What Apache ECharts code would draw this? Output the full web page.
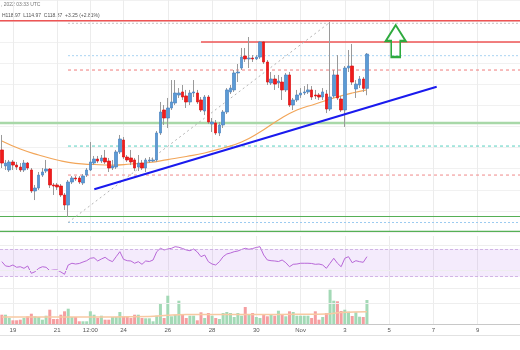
<!DOCTYPE html>
<html>
<head>
<meta charset="utf-8">
<script src="https://cdn.jsdelivr.net/npm/echarts@6/dist/echarts.min.js"></script>
<style>
  html, body { margin: 0; padding: 0; background: #ffffff; }
  #chart { width: 520px; height: 350px; }
</style>
</head>
<body>
<div id="chart"></div>
<script>
// ---- 4-hour candles, 2022-10-18 12:00 UTC .. 2022-11-04 00:00 UTC ----
const openPrices = [
  109.78, 108.26, 107.88, 108.64, 108.35, 108.16, 107.88, 108.54, 107.88, 105.89,
  106.17, 107.40, 107.78, 107.97, 106.46, 106.46, 106.36, 105.51, 104.56, 106.74,
  107.12, 107.12, 106.65, 107.40, 107.88, 108.54, 108.92, 108.73, 109.02, 108.73,
  108.07, 108.16, 109.59, 110.72, 109.11, 109.02, 108.83, 108.16, 108.54, 108.07,
  108.73, 108.73, 108.83, 111.39, 113.57, 112.81, 113.76, 114.23, 114.99, 115.28,
  114.90, 114.33, 115.18, 115.18, 114.52, 113.47, 114.80, 112.24, 112.34, 111.39,
  112.15, 113.38, 115.28, 115.47, 117.08, 117.55, 118.69, 118.41, 118.50, 118.41,
  118.59, 120.02, 118.12, 116.13, 116.51, 116.13, 116.22, 115.47, 116.89, 114.04,
  114.52, 114.99, 115.18, 115.28, 115.47, 114.99, 114.99, 114.80, 115.09, 113.66,
  114.90, 116.89, 114.61, 113.57, 117.55, 117.74, 115.56, 115.94, 116.51, 115.62
];
const closePrices = [
  108.54, 108.54, 108.64, 108.35, 108.16, 107.88, 108.54, 108.07, 105.89, 106.17,
  107.40, 107.69, 107.97, 106.46, 106.36, 106.27, 105.51, 104.56, 106.74, 107.12,
  107.03, 106.74, 107.31, 107.88, 108.64, 108.92, 108.73, 109.02, 108.64, 108.07,
  108.26, 109.59, 110.82, 109.11, 108.83, 108.64, 108.07, 108.54, 108.07, 108.83,
  108.83, 108.83, 111.39, 113.38, 112.81, 113.76, 114.33, 115.18, 115.18, 114.80,
  114.33, 115.18, 115.28, 114.33, 113.57, 114.80, 112.43, 112.43, 111.39, 112.15,
  113.38, 115.47, 115.65, 117.08, 117.17, 118.59, 118.41, 118.50, 118.41, 118.59,
  120.02, 118.12, 116.22, 116.51, 116.03, 116.32, 115.47, 116.89, 114.04, 114.52,
  114.99, 115.18, 115.28, 115.47, 114.80, 114.90, 114.80, 115.28, 113.66, 114.80,
  116.89, 114.71, 113.57, 117.55, 117.74, 116.22, 116.03, 116.51, 115.62, 118.87
];
const lowPrices = [
  108.07, 107.88, 107.69, 107.88, 107.88, 107.69, 107.69, 107.88, 105.70, 105.03,
  105.98, 107.22, 107.59, 106.17, 105.51, 105.98, 105.32, 104.09, 103.42, 106.55,
  106.84, 106.55, 106.46, 107.22, 107.78, 108.35, 108.54, 108.54, 108.45, 107.69,
  107.88, 107.97, 109.40, 108.92, 108.64, 108.35, 107.78, 107.78, 107.88, 107.69,
  108.54, 108.64, 108.64, 111.20, 112.15, 111.86, 113.57, 114.04, 114.71, 114.52,
  113.76, 114.04, 114.80, 114.14, 113.38, 113.09, 112.24, 111.48, 111.20, 111.10,
  111.86, 113.19, 115.09, 115.28, 116.22, 117.36, 118.12, 117.55, 118.12, 118.31,
  118.41, 117.93, 115.94, 115.94, 115.47, 115.65, 114.52, 115.28, 113.85, 113.57,
  114.33, 114.71, 114.99, 115.09, 114.52, 114.61, 114.52, 114.52, 113.28, 113.47,
  114.71, 114.52, 113.38, 111.96, 117.17, 115.94, 114.71, 115.65, 115.28, 114.97
];
const highPrices = [
  111.20, 108.83, 108.83, 108.83, 108.64, 108.54, 108.83, 108.64, 108.07, 106.46,
  107.69, 108.07, 108.83, 108.07, 106.65, 106.65, 106.55, 105.70, 106.93, 107.31,
  107.31, 107.31, 107.50, 108.07, 110.53, 109.21, 109.21, 109.30, 109.78, 109.02,
  108.83, 109.78, 111.20, 111.01, 109.30, 109.78, 109.02, 109.30, 108.83, 109.02,
  109.11, 109.02, 111.58, 114.33, 114.04, 114.71, 116.41, 116.41, 115.65, 115.94,
  115.47, 115.47, 116.41, 115.47, 114.80, 114.99, 114.99, 112.81, 112.62, 112.43,
  113.57, 115.65, 115.94, 117.36, 117.93, 119.45, 119.45, 120.49, 118.78, 118.78,
  120.11, 120.11, 118.31, 117.17, 116.89, 116.89, 116.70, 117.08, 117.17, 114.71,
  115.47, 115.65, 115.84, 116.03, 115.84, 115.47, 115.18, 115.65, 115.47, 121.91,
  117.36, 118.78, 114.90, 117.74, 119.26, 119.83, 116.41, 116.79, 116.70, 118.97
];
// volume per candle (thousands)
const volumes = [
  9.3, 9.3, 6.0, 3.7, 3.7, 4.3, 6.0, 7.7, 10.3, 7.7,
  7.0, 4.3, 8.3, 14.3, 5.0, 5.0, 9.3, 12.7, 15.3, 7.0,
  7.0, 2.7, 2.7, 2.7, 12.7, 9.3, 6.0, 8.3, 4.3, 4.3,
  7.0, 7.0, 12.0, 7.7, 7.7, 6.0, 9.3, 9.3, 6.0, 5.7,
  5.7, 2.7, 8.3, 21.0, 6.0, 28.3, 7.7, 9.3, 23.3, 9.3,
  6.0, 8.3, 8.3, 3.7, 11.7, 6.0, 11.0, 8.3, 6.0, 5.0,
  11.0, 12.0, 11.0, 7.0, 11.0, 8.3, 17.0, 10.0, 11.0, 7.0,
  6.0, 9.3, 7.7, 9.3, 8.3, 13.3, 9.3, 7.7, 12.7, 12.0,
  8.3, 8.3, 8.3, 8.3, 6.0, 12.7, 4.3, 7.0, 11.0, 34.3,
  23.3, 22.7, 13.0, 14.3, 12.3, 8.0, 11.7, 7.3, 7.0, 24.0
];
// RSI(14) per candle
const rsiValues = [
  51.7, 45.5, 44.7, 46.9, 43.6, 44.4, 42.1, 45.5, 34.9, 37.2,
  42.1, 44.4, 43.6, 38.7, 39.7, 39.7, 36.8, 33.5, 46.9, 49.4,
  48.3, 49.1, 51.2, 53.1, 56.6, 57.4, 52.7, 55.6, 58.0, 54.1,
  51.7, 58.9, 66.1, 55.1, 53.1, 52.7, 49.4, 51.7, 47.9, 52.7,
  51.9, 54.1, 66.1, 71.0, 68.6, 70.0, 71.0, 73.3, 72.5, 70.7,
  68.6, 67.5, 70.0, 65.7, 58.9, 61.3, 51.7, 48.3, 46.9, 51.7,
  58.9, 62.8, 64.2, 66.1, 67.1, 69.3, 71.0, 69.6, 70.7, 72.2,
  73.3, 61.3, 54.1, 53.1, 52.7, 51.9, 54.1, 50.2, 44.4, 47.9,
  48.3, 49.4, 49.4, 49.4, 49.1, 47.9, 48.3, 46.9, 42.1, 49.4,
  56.6, 49.4, 44.4, 56.6, 58.9, 50.2, 53.1, 51.7, 50.8, 58.9
];
// moving average of price, sampled [candle index, price]
const priceMaPoints = [
  [0, 110.63], [5, 109.87], [10, 109.30], [15, 108.83], [20, 108.50], [25, 108.40],
  [30, 108.35], [35, 108.45], [40, 108.59], [45, 108.87], [50, 109.16], [55, 109.49],
  [60, 109.97], [65, 110.53], [70, 111.48], [75, 112.62], [80, 113.57], [85, 114.14],
  [90, 114.71], [95, 115.18], [99, 115.47]
];
// moving average of volume, sampled [candle index, volume]
const volumeMaPoints = [
  [0, 7.0], [20, 7.0], [40, 7.5], [44, 8.5], [50, 9.5], [60, 9.5],
  [70, 9.5], [80, 9.7], [88, 10.0], [92, 11.5], [99, 12.3]
];
// time-axis ticks
const tickDates = [
  '2022-10-19 00:00', '2022-10-21 00:00', '2022-10-22 12:00', '2022-10-24 00:00',
  '2022-10-26 00:00', '2022-10-28 00:00', '2022-10-30 00:00', '2022-11-01 00:00',
  '2022-11-03 00:00', '2022-11-05 00:00', '2022-11-07 00:00', '2022-11-09 00:00'
];
const tickLabels = ['19', '21', '12:00', '24', '26', '28', '30', 'Nov', '3', '5', '7', '9'];

// ---- drawn levels (prices) ----
const resistanceTop = 122.03;
const resistanceMid = 120.02;
const supportBand = 112.34;
const supportLow = 103.47;
const supportFloor = 102.05;
// retracement levels, anchored at the 21 Oct low
const fibLevelPrices = [102.90, 107.40, 110.15, 117.36, 118.72, 121.79];
const fibAnchorLow = [17.94, 102.90];
const fibAnchorHigh = [89.05, 121.91];
const resistanceMidStart = 54.0;
// rising trend line [candle index, price]
const trendLinePoints = [[25.07, 106.05], [117.91, 115.78]];
// breakout arrow position [candle index, price]
const arrowPoint = [106.8, 120.11];

// ---- category axis (4h slots including empty space on the right) ----
const SLOT_COUNT = 141;
const START_UTC = Date.UTC(2022, 9, 18, 12, 0);
function fmtSlot(ms) {
  const d = new Date(ms);
  const p = n => String(n).padStart(2, '0');
  return d.getUTCFullYear() + '-' + p(d.getUTCMonth() + 1) + '-' + p(d.getUTCDate()) +
    ' ' + p(d.getUTCHours()) + ':' + p(d.getUTCMinutes());
}
const categories = [];
for (let i = 0; i < SLOT_COUNT; i++) categories.push(fmtSlot(START_UTC + i * 4 * 3600 * 1000));
const tickSet = new Set(tickDates);
const isTick = (idx, value) => tickSet.has(value);
const X_MAX = SLOT_COUNT - 0.5;

const UP = '#5b9bd5', DOWN = '#f01c1c';
const isUp = openPrices.map((o, i) => closePrices[i] >= o);
const candleRows = openPrices.map((o, i) => [o, closePrices[i], lowPrices[i], highPrices[i]]);
const bodyRows = openPrices.map((o, i) => {
  const c = closePrices[i];
  return [o, c, Math.min(o, c), Math.max(o, c)];
});

function levelSeries(fromX, price, style) {
  return {
    type: 'line', xAxisIndex: 3, yAxisIndex: 0, silent: true, symbol: 'none',
    data: [[fromX, price], [X_MAX, price]],
    lineStyle: style, z: 1, animation: false
  };
}

const last = openPrices.length - 1;
const chg = closePrices[last] - closePrices[last - 1];
const pct = chg / closePrices[last - 1] * 100;
const sign = chg >= 0 ? '+' : '-';
const headerText = 'H' + highPrices[last].toFixed(2) + '  L' + lowPrices[last].toFixed(2) +
  '  C' + closePrices[last].toFixed(2) + '  ' + sign + Math.abs(chg).toFixed(2) +
  ' (' + sign + Math.abs(pct).toFixed(2) + '%)';

const vGrid = { show: true, alignWithLabel: true, interval: isTick, lineStyle: { color: '#ececec', width: 1 } };
function catAxis(gridIndex, withLabels) {
  return {
    type: 'category', gridIndex, data: categories, boundaryGap: true,
    axisLine: { show: withLabels, lineStyle: { color: '#c8c8c8' } },
    axisTick: { show: false },
    axisLabel: withLabels ? {
      show: true, interval: isTick, margin: 3, fontSize: 6, color: '#555',
      fontFamily: 'Liberation Sans, Arial, sans-serif',
      formatter: v => tickLabels[tickDates.indexOf(v)]
    } : { show: false },
    splitLine: vGrid
  };
}

const chart = echarts.init(document.getElementById('chart'));
const option = {
  animation: false,
  backgroundColor: '#ffffff',
  grid: [
    { left: 0, right: 0, top: 0, height: 232 },
    { left: 0, right: 0, top: 236, height: 52 },
    { left: 0, right: 0, top: 284, height: 40 }
  ],
  xAxis: [
    catAxis(0, false),
    catAxis(1, false),
    catAxis(2, true),
    { type: 'value', gridIndex: 0, min: -0.5, max: X_MAX, show: false },
    { type: 'value', gridIndex: 2, min: -0.5, max: X_MAX, show: false }
  ],
  yAxis: [
    { type: 'value', gridIndex: 0, min: 102, max: 124, interval: 2, position: 'right',
      axisLabel: { show: false }, axisLine: { show: false }, axisTick: { show: false },
      splitLine: { show: true, lineStyle: { color: '#f1f1f1' } } },
    { type: 'value', gridIndex: 1, min: 13.68, max: 88.77, position: 'right',
      axisLabel: { show: false }, axisLine: { show: false }, axisTick: { show: false },
      splitLine: { show: false } },
    { type: 'value', gridIndex: 2, min: 0, max: 40, position: 'right',
      axisLabel: { show: false }, axisLine: { show: false }, axisTick: { show: false },
      splitLine: { show: false } }
  ],
  graphic: [
    { type: 'text', left: 1, top: 2, silent: true,
      style: { text: ', 2022 03:33 UTC', fontSize: 5, fill: '#777', fontFamily: 'Liberation Sans, Arial, sans-serif' } },
    { type: 'text', left: 2, top: 13, silent: true,
      style: { text: headerText, fontSize: 5, fill: '#555', fontFamily: 'Liberation Sans, Arial, sans-serif' } },
    { type: 'line', silent: true, shape: { x1: 0, y1: 335.5, x2: 520, y2: 335.5 },
      style: { stroke: '#e2e2e2', lineWidth: 1 } }
  ],
  series: [
    // horizontal levels
    levelSeries(-0.5, resistanceTop, { color: '#ee5555', width: 1.6 }),
    levelSeries(resistanceMidStart, resistanceMid, { color: '#ee5555', width: 1.6 }),
    levelSeries(-0.5, supportBand, { color: '#a8d8a8', width: 2.4 }),
    levelSeries(-0.5, supportLow, { color: '#55b055', width: 1.2 }),
    levelSeries(-0.5, supportFloor, { color: '#55b055', width: 1.2 }),
    levelSeries(fibAnchorLow[0], fibLevelPrices[0], { color: '#9ccbf0', width: 1, type: [2, 2] }),
    levelSeries(fibAnchorLow[0], fibLevelPrices[1], { color: '#f08a8a', width: 1, type: [3, 3] }),
    levelSeries(fibAnchorLow[0], fibLevelPrices[2], { color: '#58d0c0', width: 1, type: [3, 3] }),
    levelSeries(fibAnchorLow[0], fibLevelPrices[3], { color: '#f07c7c', width: 1, type: [3, 3] }),
    levelSeries(fibAnchorLow[0], fibLevelPrices[4], { color: '#a9d4f2', width: 1, type: [2, 2] }),
    levelSeries(fibAnchorLow[0], fibLevelPrices[5], { color: '#c4c4c4', width: 1, type: [2, 2] }),
    // retracement diagonal
    { type: 'line', xAxisIndex: 3, yAxisIndex: 0, silent: true, symbol: 'none', z: 1,
      data: [fibAnchorLow, fibAnchorHigh],
      lineStyle: { color: '#b5b5b5', width: 1, type: [2, 3] } },
    // moving average
    { type: 'line', xAxisIndex: 3, yAxisIndex: 0, silent: true, symbol: 'none', smooth: true, z: 2,
      data: priceMaPoints, lineStyle: { color: '#f2a65a', width: 1.2 } },
    // candle wicks
    { type: 'candlestick', xAxisIndex: 0, yAxisIndex: 0, silent: true, barWidth: 0.4, z: 3,
      data: candleRows,
      itemStyle: { color: '#9a9a9a', color0: '#9a9a9a', borderColor: '#9a9a9a', borderColor0: '#9a9a9a', borderWidth: 1 } },
    // candle bodies
    { type: 'candlestick', xAxisIndex: 0, yAxisIndex: 0, silent: true, barWidth: 3, z: 4,
      data: bodyRows,
      itemStyle: { color: UP, color0: DOWN, borderColor: '#4a82c0', borderColor0: '#dd1010', borderWidth: 0.7 } },
    // rising trend line + breakout arrow
    { type: 'line', xAxisIndex: 3, yAxisIndex: 0, silent: true, symbol: 'none', z: 5,
      data: trendLinePoints, lineStyle: { color: '#1a1aee', width: 2 },
      markPoint: {
        silent: true, label: { show: false },
        symbol: 'path://M10 0 L20 16 L14.5 16 L14.5 32 L5.5 32 L5.5 16 L0 16 Z',
        symbolSize: [20, 32], symbolKeepAspect: false,
        itemStyle: { color: 'rgba(255,255,255,0)', borderColor: '#2eaa3e', borderWidth: 2 },
        data: [{ coord: arrowPoint }]
      } },
    // RSI
    { type: 'line', xAxisIndex: 1, yAxisIndex: 1, silent: true, symbol: 'none', z: 3,
      data: rsiValues, lineStyle: { color: '#b868d8', width: 1 },
      markArea: { silent: true, itemStyle: { color: 'rgba(150, 60, 230, 0.10)' },
        data: [[{ yAxis: 30 }, { yAxis: 70 }]] },
      markLine: { silent: true, symbol: 'none', label: { show: false },
        data: [
          { yAxis: 70, lineStyle: { color: '#c8a6de', type: [3, 2], width: 0.8 } },
          { yAxis: 30, lineStyle: { color: '#c8a6de', type: [3, 2], width: 0.8 } },
          { yAxis: 76, lineStyle: { color: '#eeeeee', type: 'solid', width: 1 } },
          { yAxis: 40, lineStyle: { color: '#eeeeee', type: 'solid', width: 1 } }
        ] } },
    // volume
    { type: 'bar', xAxisIndex: 2, yAxisIndex: 2, silent: true, barWidth: 3, z: 3,
      data: volumes.map((v, i) => ({ value: v, itemStyle: { color: isUp[i] ? '#a3d9b6' : '#f59ea0' } })),
      markLine: { silent: true, symbol: 'none', label: { show: false },
        data: [
          { yAxis: 36, lineStyle: { color: '#eeeeee', type: 'solid', width: 1 } },
          { yAxis: 21, lineStyle: { color: '#eeeeee', type: 'solid', width: 1 } }
        ] } },
    { type: 'line', xAxisIndex: 4, yAxisIndex: 2, silent: true, symbol: 'none', smooth: true, z: 4,
      data: volumeMaPoints, lineStyle: { color: '#f7c9a2', width: 1.5 } }
  ]
};
chart.setOption(option);
</script>
</body>
</html>
